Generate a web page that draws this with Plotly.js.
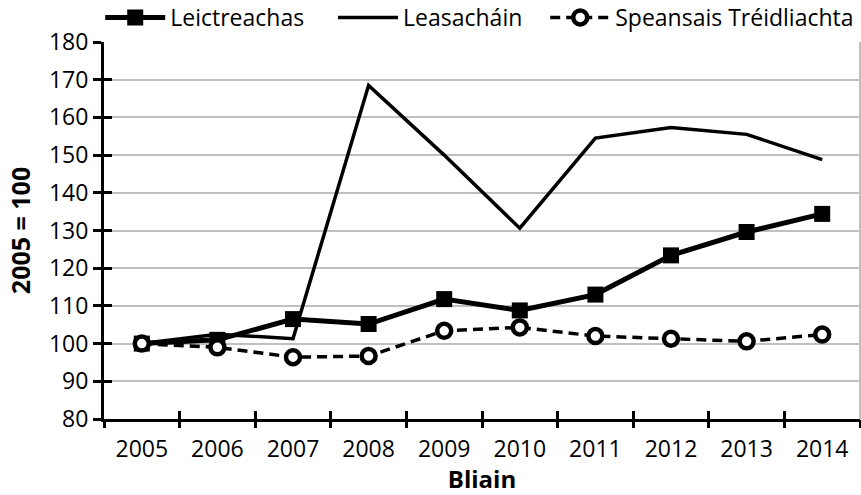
<!DOCTYPE html>
<html>
<head>
<meta charset="utf-8">
<script src="https://cdn.plot.ly/plotly-3.0.1.min.js"></script>
<style>html,body{margin:0;padding:0;background:#fff;}#chart{width:861px;height:495px;}</style>
</head>
<body>
<div id="chart"></div>
<script>
const years = ['2005','2006','2007','2008','2009','2010','2011','2012','2013','2014'];
const leictreachas = [100, 101, 106.5, 105.2, 111.8, 108.8, 113, 123.4, 129.6, 134.4];
const leasachain = [100, 102.5, 101.3, 168.5, 150, 130.6, 154.5, 157.3, 155.5, 148.8];
const speansais = [100, 99, 96.4, 96.7, 103.4, 104.3, 102, 101.3, 100.6, 102.4];
const seriesNames = ['Leictreachas', 'Leasacháin', 'Speansais Tréidliachta'];
const yTicks = [80, 90, 100, 110, 120, 130, 140, 150, 160, 170, 180];

const fontFam = 'Open Sans, sans-serif';
const NB = '\u00a0';
const blank = {showlegend: false, hoverinfo: 'skip', type: 'scatter', x: years, y: years.map(() => null)};
const traces = [
  {x: years, y: leictreachas, name: seriesNames[0] + NB.repeat(4), type: 'scatter', mode: 'lines+markers',
   line: {color: '#000', width: 5}, marker: {symbol: 'square', size: 16, color: '#000'}},
  {x: years, y: leasachain, name: seriesNames[1] + NB.repeat(3), type: 'scatter', mode: 'lines',
   line: {color: '#000', width: 3.5}},
  {x: years, y: speansais, name: seriesNames[2], type: 'scatter', mode: 'lines+markers',
   line: {color: '#000', width: 3.5, dash: '10px,6px'},
   marker: {symbol: 'circle', size: 14, color: '#fff', line: {color: '#000', width: 4.5}}},
  Object.assign({}, blank, {xaxis: 'x2', yaxis: 'y2'}),
  Object.assign({}, blank, {xaxis: 'x3', yaxis: 'y2'})
];

const tickAx = (ticks) => ({overlaying: 'x', type: 'category', range: [-0.5, 9.5], tickson: 'boundaries', ticks: ticks,
  ticklen: 8, tickwidth: 3, tickcolor: '#000', showticklabels: false, showgrid: false, zeroline: false,
  categoryarray: years, side: 'bottom', anchor: 'y2'});

const layout = {
  width: 861, height: 495,
  margin: {l: 104, r: 1, t: 42, b: 76, autoexpand: false},
  paper_bgcolor: '#fff', plot_bgcolor: '#fff',
  font: {family: fontFam, size: 23, color: '#000'},
  showlegend: true,
  legend: {orientation: 'h', x: -0.005, xanchor: 'left', y: 1.065, yanchor: 'middle',
           font: {family: fontFam, size: 23, color: '#000'}, itemwidth: 60, tracegroupgap: 0,
           bgcolor: 'rgba(0,0,0,0)'},
  xaxis: {type: 'category', range: [-0.5, 9.5], ticks: 'outside', ticklen: 7, tickwidth: 1,
          tickcolor: 'rgba(0,0,0,0)', showline: true, linecolor: '#000', linewidth: 3, showgrid: false, zeroline: false,
          tickfont: {family: fontFam, size: 23}, mirror: false,
          title: {text: '<b>Bliain</b>', font: {family: fontFam, size: 24}, standoff: 14}},
  yaxis: {range: [80, 180], tickvals: yTicks, ticktext: yTicks.map(String), ticks: 'outside', ticklen: 8, tickwidth: 3,
          tickcolor: '#000', showline: true, linecolor: '#000', linewidth: 3, showgrid: true, gridcolor: '#c0c0c0',
          gridwidth: 2, zeroline: false, tickfont: {family: fontFam, size: 23},
          title: {text: '<b>2005 = 100</b>', font: {family: fontFam, size: 25}, standoff: 12}},
  xaxis2: tickAx('outside'),
  xaxis3: tickAx('inside'),
  yaxis2: {overlaying: 'y', range: [80, 180], tickvals: yTicks, ticks: 'inside', ticklen: 8, tickwidth: 3,
           tickcolor: '#000', showticklabels: false, showgrid: false, zeroline: false, anchor: 'x2'},
  shapes: [
    {type: 'line', xref: 'paper', yref: 'paper', x0: 1, x1: 1, y0: 0, y1: 1, line: {color: '#c0c0c0', width: 2}, layer: 'below'}
  ]
};

Plotly.newPlot('chart', traces, layout, {displayModeBar: false, staticPlot: true});
</script>
</body>
</html>
